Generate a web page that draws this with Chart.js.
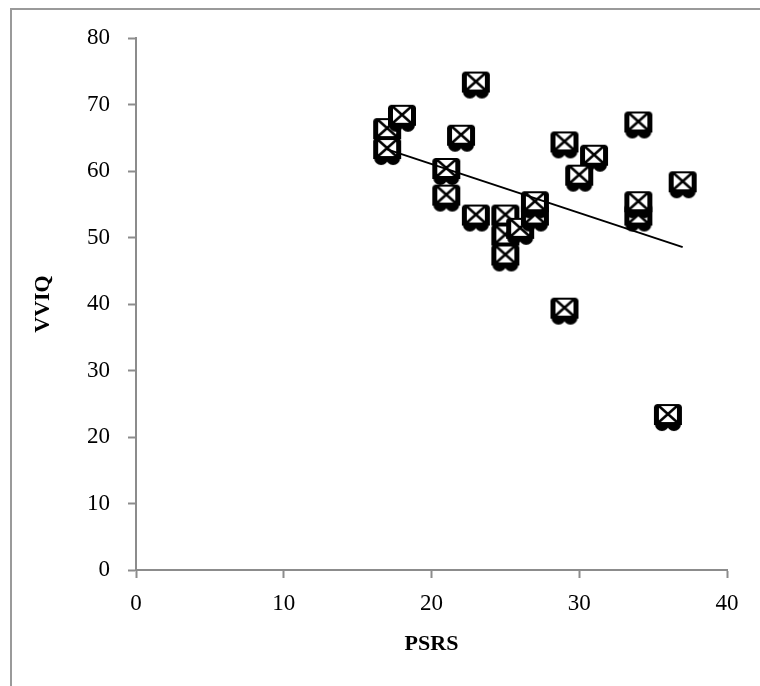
<!DOCTYPE html>
<html>
<head>
<meta charset="utf-8">
<script src="https://cdn.jsdelivr.net/npm/chart.js@4"></script>
<style>
  body { margin: 0; background: #fff; }
  canvas { display: block; }
</style>
</head>
<body>
<canvas id="scatterChart" width="760" height="686"></canvas>
<script>
// PSRS (x) vs VVIQ (y)
const psrs = [17, 17, 18, 21, 21, 22, 23, 23, 25, 25, 25, 26, 27, 27, 31, 29, 30, 29, 34, 34, 34, 36, 37];
const vviq = [66, 63, 68, 60, 56, 65, 73, 53, 53, 50, 47, 51, 53, 55, 62, 64, 59, 39, 67, 53, 55, 23, 58];
const xTicks = [0, 10, 20, 30, 40];
const yTicks = [0, 10, 20, 30, 40, 50, 60, 70, 80];

const points = psrs.map((x, i) => ({ x: x, y: vviq[i] }));

// linear trendline over the data range
function trend(xs, ys) {
    const n = xs.length;
    const mx = xs.reduce((a, b) => a + b, 0) / n;
    const my = ys.reduce((a, b) => a + b, 0) / n;
    let sxy = 0, sxx = 0;
    xs.forEach((x, i) => {
        sxy += (x - mx) * (ys[i] - my);
        sxx += (x - mx) * (x - mx);
    });
    const b = sxy / sxx;
    const a = my - b * mx;
    const lo = Math.min(...xs), hi = Math.max(...xs);
    return [{ x: lo, y: a + b * lo }, { x: hi, y: a + b * hi }];
}

// marker: black blob behind a white box with an X
function makeMarker() {
    const c = document.createElement("canvas");
    c.width = 30;
    c.height = 30;
    const g = c.getContext("2d");
    g.fillStyle = "#000";
    g.beginPath(); g.arc(9, 22, 7, 0, Math.PI * 2); g.fill();
    g.beginPath(); g.arc(21, 22, 7, 0, Math.PI * 2); g.fill();
    g.beginPath(); g.arc(5, 6, 4, 0, Math.PI * 2); g.fill();
    g.beginPath(); g.arc(25, 6, 4, 0, Math.PI * 2); g.fill();
    g.fillRect(1, 5, 5, 18);
    g.fillRect(24, 5, 5, 18);
    g.fillStyle = "#fff";
    g.fillRect(5, 3, 20, 18);
    g.strokeStyle = "#000";
    g.lineWidth = 2;
    g.strokeRect(5, 3, 20, 18);
    g.beginPath();
    g.moveTo(6, 4); g.lineTo(24, 20);
    g.moveTo(24, 4); g.lineTo(6, 20);
    g.lineWidth = 2.5;
    g.stroke();
    return c;
}

const framePlugin = {
    id: "frame",
    beforeDraw(chart) {
        const ctx = chart.ctx;
        ctx.save();
        ctx.fillStyle = "#fff";
        ctx.fillRect(0, 0, chart.width, chart.height);
        ctx.strokeStyle = "#9a9a9a";
        ctx.lineWidth = 2;
        ctx.strokeRect(11, 9, chart.width + 20, chart.height + 20);
        ctx.restore();
    },
};

const tickFont = { family: "'Liberation Serif', serif", size: 23 };
const titleFont = { family: "'Liberation Serif', serif", size: 22, weight: "bold" };

const ctx = document.getElementById("scatterChart").getContext("2d");
new Chart(ctx, {
    type: "scatter",
    data: {
        datasets: [
            {
                type: "line",
                data: trend(psrs, vviq),
                borderColor: "#000",
                borderWidth: 2,
                pointRadius: 0,
                fill: false,
            },
            {
                data: points,
                pointStyle: makeMarker(),
                pointRadius: 15,
            },
        ],
    },
    options: {
        responsive: false,
        animation: false,
        devicePixelRatio: 1,
        layout: { padding: { left: 0, right: 33, top: 38, bottom: 0 } },
        plugins: { legend: { display: false }, tooltip: { enabled: false } },
        scales: {
            x: {
                type: "linear",
                min: 0,
                max: 40,
                afterBuildTicks: (s) => { s.ticks = xTicks.map((v) => ({ value: v })); },
                afterFit: (s) => { s.height = 116; },
                border: { color: "#8c8c8c", width: 2 },
                grid: { drawOnChartArea: false, tickLength: 8, color: "#8c8c8c", tickWidth: 2 },
                ticks: { color: "#000", font: tickFont, padding: 12, maxRotation: 0 },
                title: { display: true, text: "PSRS", color: "#000", font: titleFont, padding: { top: 0, bottom: 28 } },
            },
            y: {
                type: "linear",
                min: 0,
                max: 80,
                afterBuildTicks: (s) => { s.ticks = yTicks.map((v) => ({ value: v })); },
                afterFit: (s) => { s.width = 136; },
                border: { color: "#8c8c8c", width: 2 },
                grid: { drawOnChartArea: false, tickLength: 8, color: "#8c8c8c", tickWidth: 2 },
                ticks: { color: "#000", font: tickFont, padding: 18 },
                title: { display: true, text: "VVIQ", color: "#000", font: titleFont, padding: { top: 30, bottom: 0 } },
            },
        },
    },
    plugins: [framePlugin],
});
</script>
</body>
</html>
